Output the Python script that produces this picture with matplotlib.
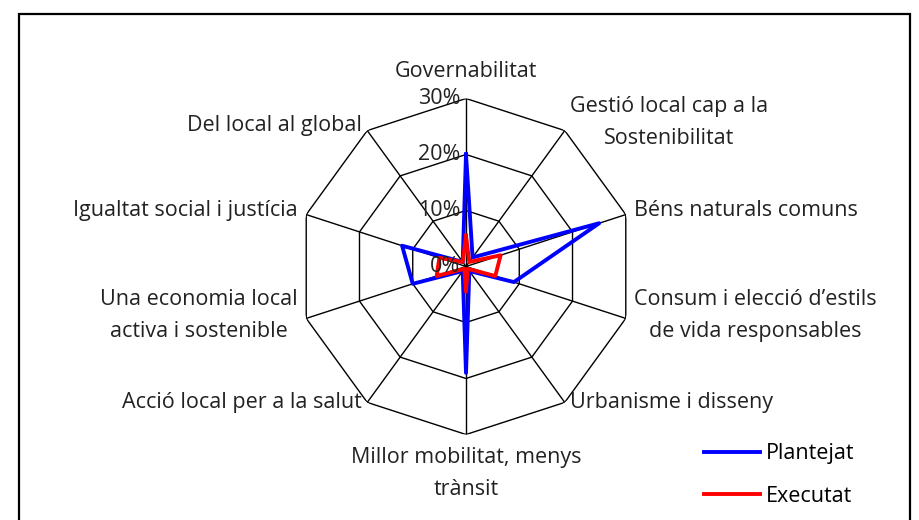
import numpy as np
import matplotlib.pyplot as plt
from matplotlib.patches import Rectangle

plt.rcParams['font.family'] = ['Open Sans', 'DejaVu Sans']

categories = [
    'Governabilitat',
    'Gestió local cap a la\nSostenibilitat',
    'Béns naturals comuns',
    'Consum i elecció d\u2019estils\nde vida responsables',
    'Urbanisme i disseny',
    'Millor mobilitat, menys\ntrànsit',
    'Acció local per a la salut',
    'Una economia local\nactiva i sostenible',
    'Igualtat social i justícia',
    'Del local al global',
]
plantejat = [0.20, 0.02, 0.25, 0.09, 0.01, 0.19, 0.01, 0.10, 0.12, 0.01]
executat = [0.055, 0.01, 0.065, 0.055, 0.005, 0.045, 0.005, 0.055, 0.05, 0.01]
ticks = [0.0, 0.1, 0.2, 0.3]
tick_labels = ['0%', '10%', '20%', '30%']

W, H = 919, 520
fig = plt.figure(figsize=(W / 100, H / 100), dpi=100)
fig.patch.set_facecolor('white')

# chart frame
fig.patches.append(Rectangle((19 / W, -0.05), (910 - 19) / W, (H - 14) / H + 0.05,
                             transform=fig.transFigure, fill=False,
                             edgecolor='black', lw=1.6))

cx, cy, R = 466, 266.5, 168
ax = fig.add_axes([(cx - R) / W, (H - cy - R) / H, 2 * R / W, 2 * R / H],
                  projection='polar')
ax.set_theta_zero_location('N')
ax.set_theta_direction(-1)
ax.set_ylim(0, 0.30)
ax.axis('off')

n = len(categories)
ang = np.linspace(0, 2 * np.pi, n, endpoint=False)
ang_c = np.append(ang, ang[0])

# decagon grid
for t in ticks[1:]:
    ax.plot(ang_c, [t] * (n + 1), color='black', lw=1.0, zorder=1)
for a in ang:
    ax.plot([a, a], [0, 0.30], color='black', lw=1.0, zorder=1)

# radial tick labels
fs = 15.5
for t, lab in zip(ticks, tick_labels):
    ax.annotate(lab, (0, t), xytext=(-4, 0), textcoords='offset points',
                ha='right', va='center', fontsize=fs, color='#222222', zorder=5)

ax.plot(ang_c, plantejat + plantejat[:1], color='#0000ff', lw=2.8, zorder=3,
        label='Plantejat')
ax.plot(ang_c, executat + executat[:1], color='#ff0000', lw=2.8, zorder=4,
        label='Executat')

# category labels
offsets = [(0, 12, 'center', 'bottom'), (4, 6, 'left', 'center'),
           (6, 3, 'left', 'center'), (6, 2, 'left', 'center'),
           (4, 0, 'left', 'center'), (0, -9, 'center', 'top'),
           (-4, 0, 'right', 'center'), (-6, 2, 'right', 'center'),
           (-6, 3, 'right', 'center'), (-4, 4, 'right', 'center')]
for a, lab, (dx, dy, ha, va) in zip(ang, categories, offsets):
    ax.annotate(lab, (a, 0.30), xytext=(dx, dy), textcoords='offset points',
                ha=ha, va=va, multialignment='center', fontsize=fs,
                color='#222222', linespacing=1.7)

leg = fig.legend(loc='lower right', bbox_to_anchor=(874 / W, -6 / H),
                 frameon=False, fontsize=fs, handlelength=2.6,
                 labelspacing=1.0, handletextpad=0.3)

fig.savefig('out.png', dpi=100)
